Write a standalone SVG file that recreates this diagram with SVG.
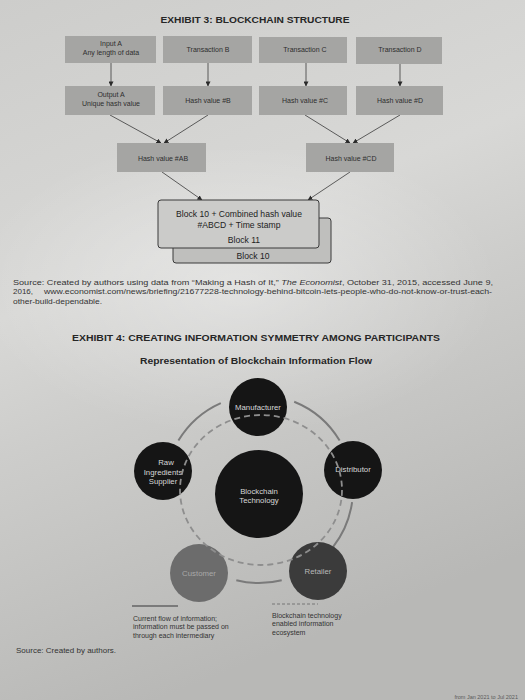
<svg xmlns="http://www.w3.org/2000/svg" width="525" height="700" viewBox="0 0 525 700">
<defs>
<linearGradient id="bg" x1="0" y1="0" x2="0.3" y2="1">
<stop offset="0" stop-color="#cdcdcb"/>
<stop offset="0.42" stop-color="#d8d8d6"/>
<stop offset="0.6" stop-color="#cdcdcb"/>
<stop offset="1" stop-color="#b8b8b6"/>
</linearGradient>
<radialGradient id="glare" cx="0.45" cy="0.45" r="0.5">
<stop offset="0" stop-color="#ffffff" stop-opacity="0.35"/>
<stop offset="1" stop-color="#ffffff" stop-opacity="0"/>
</radialGradient>
<marker id="ah" viewBox="0 0 6 6" refX="5.5" refY="3" markerWidth="5" markerHeight="5" orient="auto" markerUnits="userSpaceOnUse">
<path d="M0,0 L6,3 L0,6 z" fill="#2a2a2a"/>
</marker>
<style>
text{font-family:"Liberation Sans",Arial,sans-serif;fill:#2e2e2e}
.box{fill:#a5a5a3}
.bt{font-size:7px;text-anchor:middle}
.blk{fill:#cbcbc9;stroke:#3a3a3a;stroke-width:1}
.blt{font-size:8.6px;text-anchor:middle;fill:#222}
.con{stroke:#3a3a3a;stroke-width:0.8;fill:none;marker-end:url(#ah)}
.title{font-weight:bold;text-anchor:middle;fill:#262626}
.src{font-size:8px;fill:#333}
.blackc{fill:#151515}
.ct{font-size:7.8px;text-anchor:middle;fill:#d8d8d8}
.solid{stroke:#7a7a7a;stroke-width:2;fill:none}
.dash{stroke:#8e8e8e;stroke-width:1.8;fill:none;stroke-dasharray:6 4}
.leg{font-size:7px;fill:#333}
</style>
</defs>
<rect width="525" height="700" fill="url(#bg)"/>
<rect x="0" y="150" width="525" height="300" fill="url(#glare)"/>

<text class="title" x="255" y="22.5" font-size="9.5" textLength="189" lengthAdjust="spacingAndGlyphs">EXHIBIT 3: BLOCKCHAIN STRUCTURE</text>

<g id="connectors3">
<line class="con" x1="111" y1="63" x2="111" y2="86"/>
<line class="con" x1="208" y1="63" x2="208" y2="86"/>
<line class="con" x1="306" y1="63" x2="306" y2="86"/>
<line class="con" x1="400" y1="63" x2="400" y2="86"/>
<line class="con" x1="110" y1="115" x2="161" y2="143"/>
<line class="con" x1="208" y1="115" x2="164" y2="143"/>
<line class="con" x1="305" y1="115" x2="350" y2="143"/>
<line class="con" x1="400" y1="115" x2="353" y2="143"/>
<line class="con" x1="162" y1="172" x2="202" y2="200"/>
<line class="con" x1="350" y1="172" x2="308" y2="200"/>
</g>

<g id="input-a"><rect class="box" x="65" y="36" width="91" height="27"/>
<text class="bt" x="111" y="45.5">Input A</text><text class="bt" x="111" y="55">Any length of data</text></g>
<g id="transaction-b"><rect class="box" x="163" y="36" width="89" height="27"/>
<text class="bt" x="208" y="52">Transaction B</text></g>
<g id="transaction-c"><rect class="box" x="259" y="37" width="88" height="26"/>
<text class="bt" x="305" y="52">Transaction C</text></g>
<g id="transaction-d"><rect class="box" x="356" y="37" width="86" height="27"/>
<text class="bt" x="400" y="52">Transaction D</text></g>

<g id="output-a"><rect class="box" x="65" y="86" width="90" height="29"/>
<text class="bt" x="111" y="96.5">Output A</text><text class="bt" x="111" y="105.5">Unique hash value</text></g>
<g id="hash-b"><rect class="box" x="163" y="86" width="89" height="29"/>
<text class="bt" x="208" y="102.5">Hash value #B</text></g>
<g id="hash-c"><rect class="box" x="259" y="86" width="88" height="29"/>
<text class="bt" x="305" y="102.5">Hash value #C</text></g>
<g id="hash-d"><rect class="box" x="356" y="86" width="87" height="29"/>
<text class="bt" x="400" y="102.5">Hash value #D</text></g>

<g id="hash-ab"><rect class="box" x="117" y="143" width="89" height="29"/>
<text class="bt" x="163" y="160.5">Hash value #AB</text></g>
<g id="hash-cd"><rect class="box" x="306" y="143" width="88" height="29"/>
<text class="bt" x="351" y="160.5">Hash value #CD</text></g>

<g id="block-10"><rect class="blk" x="173" y="218" width="158" height="45" rx="3" style="fill:#bfbfbd"/>
<text class="blt" x="253" y="259">Block 10</text></g>
<g id="block-11"><rect class="blk" x="158" y="200" width="161" height="48" rx="3"/>
<text class="blt" x="239" y="217">Block 10 + Combined hash value</text>
<text class="blt" x="239" y="228">#ABCD + Time stamp</text>
<text class="blt" x="244" y="243">Block 11</text></g>

<g id="source3">
<text class="src" x="13" y="284.5" textLength="480" lengthAdjust="spacingAndGlyphs">Source: Created by authors using data from “Making a Hash of It,” <tspan font-style="italic">The Economist</tspan>, October 31, 2015, accessed June 9,</text>
<text class="src" x="13" y="294">2016,</text>
<text class="src" x="44" y="294" textLength="448" lengthAdjust="spacingAndGlyphs">www.economist.com/news/briefing/21677228-technology-behind-bitcoin-lets-people-who-do-not-know-or-trust-each-</text>
<text class="src" x="13" y="303.5" textLength="89" lengthAdjust="spacingAndGlyphs">other-build-dependable.</text>
</g>

<text class="title" x="256" y="340.5" font-size="9.5" textLength="368" lengthAdjust="spacingAndGlyphs">EXHIBIT 4: CREATING INFORMATION SYMMETRY AMONG PARTICIPANTS</text>
<text class="title" x="256" y="364" font-size="8.6" textLength="232" lengthAdjust="spacingAndGlyphs">Representation of Blockchain Information Flow</text>

<g id="connectors4">
<path class="solid" d="M178.4,440.6 A94,94 0 0 1 220.8,403.1"/>
<path class="solid" d="M294.2,401.8 A94,94 0 0 1 339.6,440.6"/>
<path class="solid" d="M352.1,502.1 A94,94 0 0 1 333.1,546.9"/>
<path class="solid" d="M281.7,580.2 A94,94 0 0 1 236.3,580.2"/>
</g>

<g id="manufacturer"><circle class="blackc" cx="258" cy="407" r="29"/>
<text class="ct" x="258" y="409.5">Manufacturer</text></g>
<g id="raw-ingredients-supplier"><circle class="blackc" cx="163" cy="471" r="29"/>
<text class="ct" x="166" y="465">Raw</text><text class="ct" x="163" y="474.5">Ingredients</text><text class="ct" x="163" y="484">Supplier</text></g>
<g id="distributor"><circle class="blackc" cx="353" cy="470" r="29"/>
<text class="ct" x="353" y="472">Distributor</text></g>
<g id="blockchain-technology"><circle class="blackc" cx="259" cy="494" r="44"/>
<text class="ct" x="259" y="493.5">Blockchain</text><text class="ct" x="259" y="502.5">Technology</text></g>
<g id="customer"><circle cx="199" cy="573" r="29" fill="#6c6c6c"/>
<text class="ct" x="199" y="575.5" style="fill:#a8a8a8">Customer</text></g>
<g id="retailer"><circle cx="318" cy="571" r="29" fill="#3b3b3b"/>
<text class="ct" x="318" y="574" style="fill:#b8b8b8">Retailer</text></g>

<g id="blockchain-ring">
<ellipse class="dash" cx="261" cy="490" rx="81" ry="75"/>
</g>

<g id="legend">
<line class="solid" x1="132" y1="606" x2="178" y2="606"/>
<text class="leg" x="133" y="620.5">Current flow of information;</text>
<text class="leg" x="133" y="629">information must be passed on</text>
<text class="leg" x="133" y="637.5">through each intermediary</text>
<line x1="272" y1="604" x2="318" y2="604" stroke="#777" stroke-width="1.2" stroke-dasharray="3 2"/>
<text class="leg" x="272" y="617.5">Blockchain technology</text>
<text class="leg" x="272" y="626">enabled information</text>
<text class="leg" x="272" y="634.5">ecosystem</text>
</g>

<text class="src" x="16" y="652.5" font-size="8">Source: Created by authors.</text>
<text x="518" y="698.5" font-size="5.5" text-anchor="end" style="fill:#5a5a5a">from Jan 2021 to Jul 2021</text>
</svg>
